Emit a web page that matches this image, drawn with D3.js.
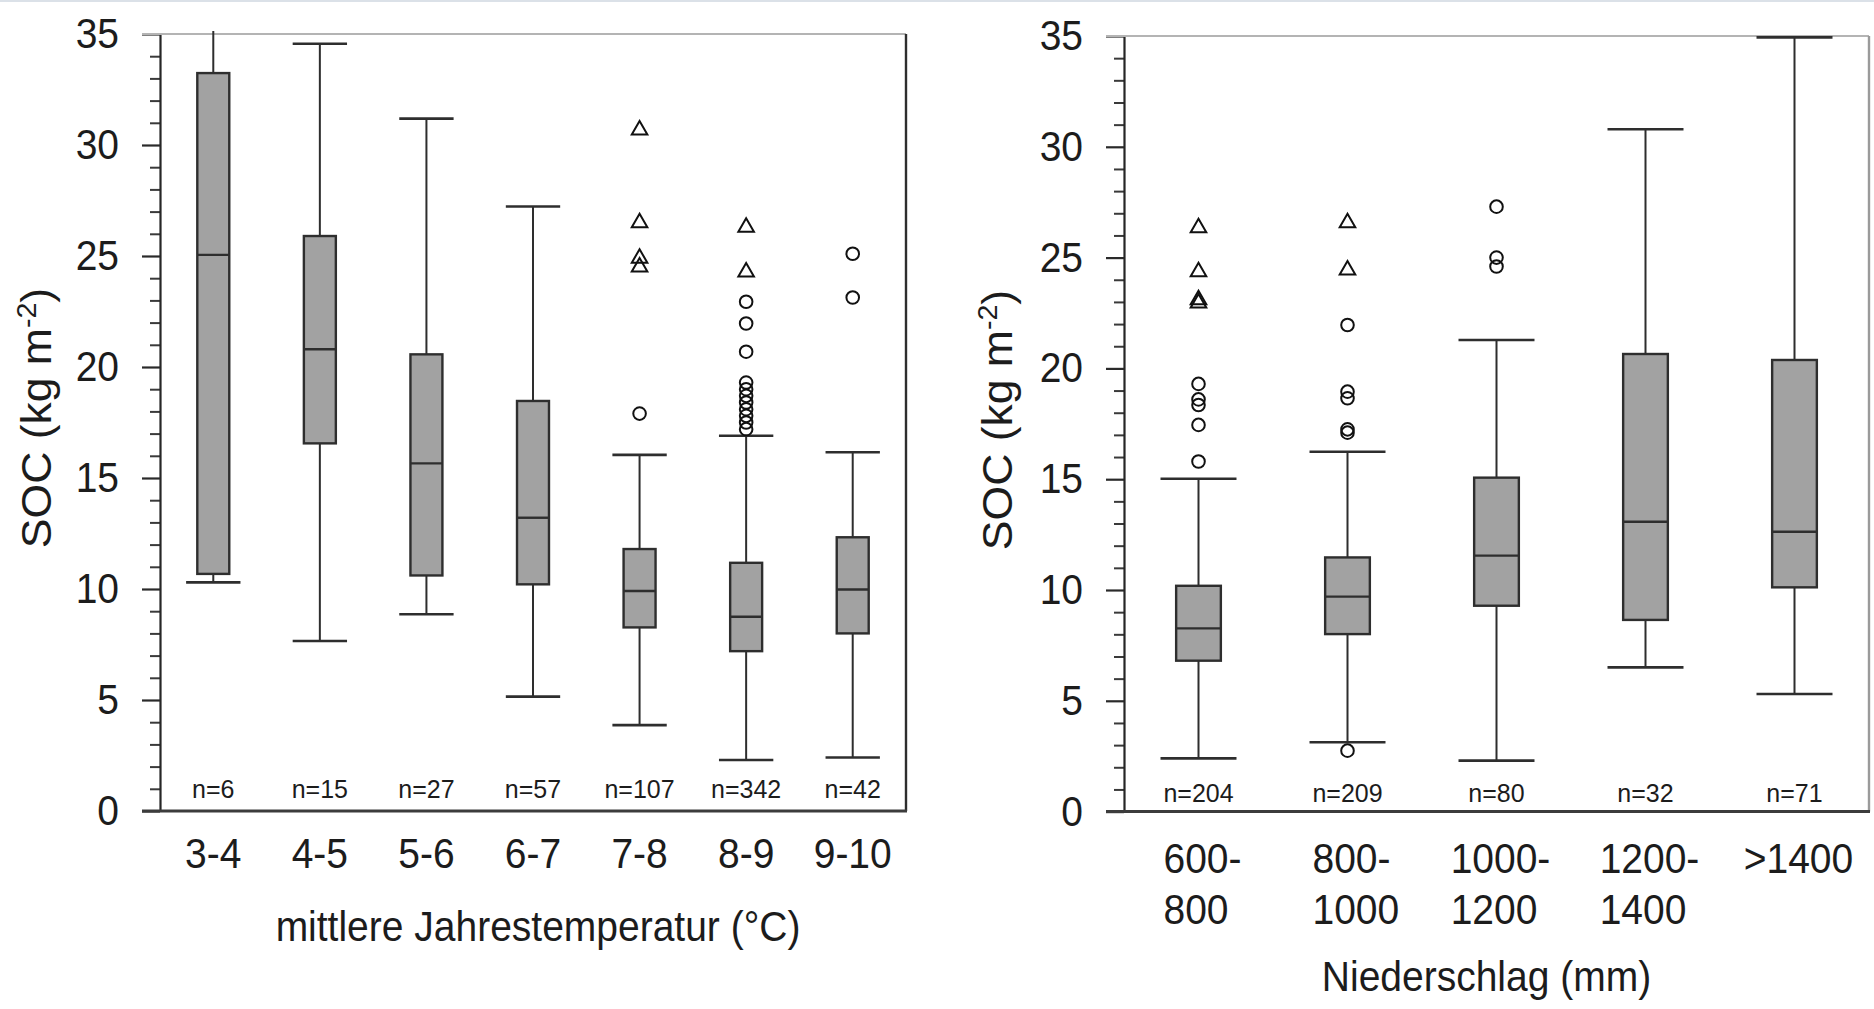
<!DOCTYPE html>
<html>
<head>
<meta charset="utf-8">
<script src="https://cdn.jsdelivr.net/npm/d3@7"></script>
<style>
  html, body { margin: 0; padding: 0; background: #fff; overflow: hidden; }
  svg { display: block; font-family: "Liberation Sans", Arial, sans-serif; }
</style>
</head>
<body>
<svg id="chart" width="1874" height="1009"></svg>
<script>
// ---- Mean annual temperature classes (°C) ----
const tempCategories = ["3-4", "4-5", "5-6", "6-7", "7-8", "8-9", "9-10"];
const tempN          = [6, 15, 27, 57, 107, 342, 42];
const tempWhiskerLow = [10.3, 7.66, 8.86, 5.15, 3.87, 2.3, 2.41];
const tempQ1         = [10.68, 16.56, 10.61, 10.21, 8.27, 7.2, 8.0];
const tempMedian     = [25.05, 20.8, 15.66, 13.21, 9.91, 8.75, 9.98];
const tempQ3         = [33.24, 25.9, 20.57, 18.47, 11.8, 11.18, 12.33];
const tempWhiskerHigh= [36.5, 34.56, 31.19, 27.23, 16.04, 16.9, 16.16];
const tempOutliers   = [[], [], [], [], [17.9],
  [22.94, 21.96, 20.69, 19.3, 19.0, 18.7, 18.4, 18.1, 17.8, 17.5, 17.2],
  [25.1, 23.13]];
const tempExtremes   = [[], [], [], [], [30.68, 26.5, 24.9, 24.5], [26.3, 24.28], []];

// ---- Precipitation classes (mm) ----
const precCategories = [["600-", "800"], ["800-", "1000"], ["1000-", "1200"], ["1200-", "1400"], [">1400"]];
const precN          = [204, 209, 80, 32, 71];
const precWhiskerLow = [2.4, 3.13, 2.3, 6.51, 5.31];
const precQ1         = [6.81, 8.01, 9.29, 8.65, 10.12];
const precMedian     = [8.27, 9.7, 11.55, 13.08, 12.63];
const precQ3         = [10.19, 11.47, 15.07, 20.65, 20.38];
const precWhiskerHigh= [15.02, 16.24, 21.28, 30.79, 34.94];
const precOutliers   = [[19.3, 18.6, 18.35, 17.45, 15.8],
  [21.96, 18.95, 18.65, 17.25, 17.1, 2.75],
  [27.3, 25.0, 24.6], [], []];
const precExtremes   = [[26.35, 24.36, 23.1, 22.95], [26.57, 24.44], [], [], []];

const yTicksMajor = [0, 5, 10, 15, 20, 25, 30, 35];

const svg = d3.select("#chart");
const INK = "#1c1c1c";
const LINE = "#2e2e2e";
const FILL = "#a2a2a2";
const SY = 1.08; // slight vertical stretch of the lettering

// thin frame line at the very top of the page
svg.append("rect").attr("x", 0).attr("y", 0).attr("width", 1874).attr("height", 2).attr("fill", "#dbe1e8");

function stretchedText(g, x, y, txt, size, anchor) {
  return g.append("g").attr("transform", `translate(${x},${y})`)
    .append("text")
    .attr("transform", `scale(1,${SY})`)
    .attr("text-anchor", anchor || "middle")
    .attr("fill", INK)
    .style("font-size", size + "px")
    .text(txt);
}

function drawPanel(cfg) {
  const g = svg.append("g");
  const y = d3.scaleLinear().domain([0, 35]).range([cfg.bottom, cfg.top]);
  const idx = d3.range(cfg.categories.length);
  const x = d3.scaleBand().domain(idx).range([cfg.left, cfg.right]).paddingInner(0).paddingOuter(0);
  const bw = x.bandwidth();
  const cx = i => x(i) + bw / 2;
  const boxW = bw * 0.30, capW = bw * 0.51;

  const clipId = "clip" + cfg.id;
  svg.append("defs").append("clipPath").attr("id", clipId)
    .append("rect").attr("x", cfg.left).attr("y", cfg.top - 3)
    .attr("width", cfg.right - cfg.left).attr("height", cfg.bottom - cfg.top + 3);

  // minor ticks
  const minor = g.append("g").attr("transform", `translate(${cfg.left},0)`)
    .call(d3.axisLeft(y).tickValues(d3.range(0, 36, 1).filter(v => v % 5 !== 0)).tickSize(10).tickFormat(""));
  minor.select(".domain").remove();
  minor.selectAll(".tick line").attr("stroke", "#3a3a3a").attr("stroke-width", 2);

  // major ticks + labels
  const major = g.append("g").attr("transform", `translate(${cfg.left},0)`)
    .call(d3.axisLeft(y).tickValues(yTicksMajor).tickSize(18).tickSizeOuter(0).tickPadding(23));
  major.attr("font-family", null).attr("font-size", null);
  major.select(".domain").attr("stroke", "#262626").attr("stroke-width", 2.2);
  major.selectAll(".tick line").attr("stroke", "#2a2a2a").attr("stroke-width", 2.2);
  major.selectAll(".tick text").attr("fill", INK).style("font-size", "39px")
    .attr("transform", `scale(1,${SY})`);

  // frame: top (light), right, bottom
  g.append("line").attr("x1", cfg.left - 18).attr("x2", cfg.right).attr("y1", y(35)).attr("y2", y(35))
    .attr("stroke", "#b4b4b4").attr("stroke-width", 2);
  g.append("line").attr("x1", cfg.right).attr("x2", cfg.right).attr("y1", y(35)).attr("y2", y(0))
    .attr("stroke", cfg.rightFrame).attr("stroke-width", 2.4);
  g.append("line").attr("x1", cfg.left - 18).attr("x2", cfg.right + 1).attr("y1", y(0)).attr("y2", y(0))
    .attr("stroke", "#3c3c3c").attr("stroke-width", 3);

  const plot = g.append("g").attr("clip-path", `url(#${clipId})`);

  // whiskers
  plot.selectAll(".whisker").data(idx).join("line")
    .attr("x1", cx).attr("x2", cx)
    .attr("y1", i => y(cfg.whiskerLow[i])).attr("y2", i => y(cfg.whiskerHigh[i]))
    .attr("stroke", LINE).attr("stroke-width", 2);
  // caps
  ["whiskerLow", "whiskerHigh"].forEach(k => {
    plot.selectAll(".cap-" + k).data(idx).join("line")
      .attr("x1", i => cx(i) - capW / 2).attr("x2", i => cx(i) + capW / 2)
      .attr("y1", i => y(cfg[k][i])).attr("y2", i => y(cfg[k][i]))
      .attr("stroke", LINE).attr("stroke-width", 2.6);
  });
  // boxes
  plot.selectAll(".box").data(idx).join("rect")
    .attr("x", i => cx(i) - boxW / 2).attr("width", boxW)
    .attr("y", i => y(cfg.q3[i])).attr("height", i => y(cfg.q1[i]) - y(cfg.q3[i]))
    .attr("fill", FILL).attr("stroke", LINE).attr("stroke-width", 2.4);
  // medians
  plot.selectAll(".median").data(idx).join("line")
    .attr("x1", i => cx(i) - boxW / 2).attr("x2", i => cx(i) + boxW / 2)
    .attr("y1", i => y(cfg.median[i])).attr("y2", i => y(cfg.median[i]))
    .attr("stroke", LINE).attr("stroke-width", 2.4);

  // outliers (circles) and extremes (triangles)
  const circ = idx.flatMap(i => cfg.outliers[i].map(v => ({ i, v })));
  plot.selectAll(".outlier").data(circ).join("circle")
    .attr("cx", d => cx(d.i)).attr("cy", d => y(d.v)).attr("r", 6.3)
    .attr("fill", "none").attr("stroke", "#111").attr("stroke-width", 2);
  const tri = idx.flatMap(i => cfg.extremes[i].map(v => ({ i, v })));
  plot.selectAll(".extreme").data(tri).join("path")
    .attr("transform", d => `translate(${cx(d.i)},${y(d.v)})`)
    .attr("d", d3.symbol(d3.symbolTriangle, 105))
    .attr("fill", "none").attr("stroke", "#111").attr("stroke-width", 2);

  // n labels
  idx.forEach(i => {
    g.append("text").attr("x", cx(i)).attr("y", cfg.bottom - cfg.nOffset)
      .attr("text-anchor", "middle").attr("fill", INK).style("font-size", "25px")
      .text("n=" + cfg.n[i]);
  });

  // category labels
  idx.forEach(i => {
    const lines = [].concat(cfg.categories[i]);
    if (lines.length === 1 && !cfg.multiline) {
      stretchedText(g, cx(i), cfg.bottom + 57, lines[0], 39, "middle");
    } else {
      const holder = g.append("g").attr("transform", `translate(0,${cfg.bottom + 61})`);
      const t = holder.append("text").attr("transform", `scale(1,${SY})`)
        .attr("fill", INK).style("font-size", "39px").attr("text-anchor", "start");
      lines.forEach((ln, k) => {
        t.append("tspan").attr("dy", k === 0 ? 0 : 48).text(ln);
      });
      const w = t.select("tspan").node().getComputedTextLength();
      const x0 = cx(i) - w / 2 + 4;
      t.selectAll("tspan").attr("x", x0);
    }
  });

  // axis titles
  stretchedText(g, (cfg.left + cfg.right) / 2 + cfg.xTitleShift, cfg.xTitleY, cfg.xTitle, 39, "middle");

  const yt = g.append("g").attr("transform", `translate(${cfg.yTitleX},${cfg.yTitleY}) rotate(-90) scale(1.06,1)`)
    .append("text").attr("text-anchor", "middle").attr("fill", INK).style("font-size", "42px");
  yt.append("tspan").text("SOC (kg m");
  yt.append("tspan").attr("baseline-shift", "super").style("font-size", "27px").text("-2");
  yt.append("tspan").text(")");
}

drawPanel({
  id: "T", left: 160, right: 906, top: 34, bottom: 811,
  categories: tempCategories, n: tempN,
  whiskerLow: tempWhiskerLow, q1: tempQ1, median: tempMedian, q3: tempQ3, whiskerHigh: tempWhiskerHigh,
  outliers: tempOutliers, extremes: tempExtremes,
  rightFrame: "#2e2e2e", nOffset: 13, multiline: false,
  xTitle: "mittlere Jahrestemperatur (°C)", xTitleY: 941, xTitleShift: 5,
  yTitleX: 51, yTitleY: 418
});

drawPanel({
  id: "P", left: 1124, right: 1869, top: 36, bottom: 811.6,
  categories: precCategories, n: precN,
  whiskerLow: precWhiskerLow, q1: precQ1, median: precMedian, q3: precQ3, whiskerHigh: precWhiskerHigh,
  outliers: precOutliers, extremes: precExtremes,
  rightFrame: "#9a9a9a", nOffset: 10, multiline: true,
  xTitle: "Niederschlag (mm)", xTitleY: 991, xTitleShift: -10,
  yTitleX: 1012, yTitleY: 420
});
</script>
</body>
</html>
